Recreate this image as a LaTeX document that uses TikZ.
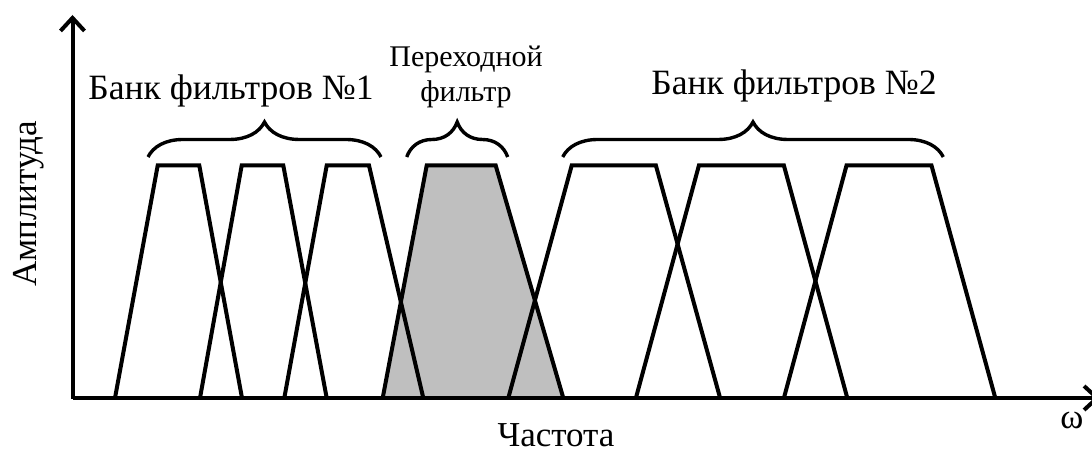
\documentclass[tikz,border=0pt]{standalone}
\usepackage{fontspec}
\setmainfont{Liberation Serif}
\usetikzlibrary{arrows.meta,decorations.pathreplacing,positioning}
\definecolor{cgray}{HTML}{BFBFBF}

\begin{document}
\begin{tikzpicture}[x=0.5pt, y=-0.5pt,
    filt/.style={line width=2pt, line join=miter},
    brc/.style={decorate, decoration={brace, amplitude=17.5pt}, line width=1.7pt},
    ax/.style={line width=2pt, -{Straight Barb[length=6.5pt, width=12pt]}},
    lbl/.style={font=\fontsize{17.8}{20}\selectfont, inner sep=0pt},
    axlbl/.style={font=\fontsize{17.5}{20}\selectfont, inner sep=0pt}
  ]
  \useasboundingbox (0,0) rectangle (1092,453);

  % transition filter (shaded)
  \fill[cgray] (382.7,398) -- (426.7,165.5) -- (495.7,165.5) -- (563.3,398) -- cycle;

  % filter banks
  \foreach \a/\b/\c/\d in {115/157.7/199.3/242, 200/241.7/283.3/326.7, 284.3/326.7/369/423.3,
                           382.7/426.7/495.7/563.3,
                           508.3/571.7/655.9/720.1, 635.9/698.9/783.9/847.3, 783.9/846.5/931.5/995.3}
    \draw[filt] (\a,398) -- (\b,165.5) -- (\c,165.5) -- (\d,398);

  % axes
  \draw[ax] (72.5,398) -- (1100,398);
  \draw[ax] (72.5,399) -- (72.5,15);

  % braces
  \coordinate (b1l) at (148,157);
  \coordinate (b1r) at (381,157);
  \coordinate (trl) at (406.7,157);
  \coordinate (trr) at (507.7,157);
  \coordinate (b2l) at (562.7,157);
  \coordinate (b2r) at (943.3,157);
  \draw[brc] (b1l) -- (b1r);
  \draw[brc] (trl) -- (trr);
  \draw[brc] (b2l) -- (b2r);

  % labels
  \node[lbl, anchor=base] (bank1) at (231,100) {Банк фильтров №1};
  \node[lbl, anchor=base] (bank2) at (794,95) {Банк фильтров №2};
  \node[inner sep=0pt, anchor=north, align=center, font=\fontsize{15}{17.5}\selectfont] (trans) at (466,46) {Переходной\\фильтр};
  \node[axlbl, anchor=base, rotate=90] (amp) at (36,204) {Амплитуда};
  \node[axlbl, anchor=base] (freq) at (556,447) {Частота};
  \node[axlbl, anchor=base] (omega) at (1072,429) {ω};
\end{tikzpicture}
\end{document}
